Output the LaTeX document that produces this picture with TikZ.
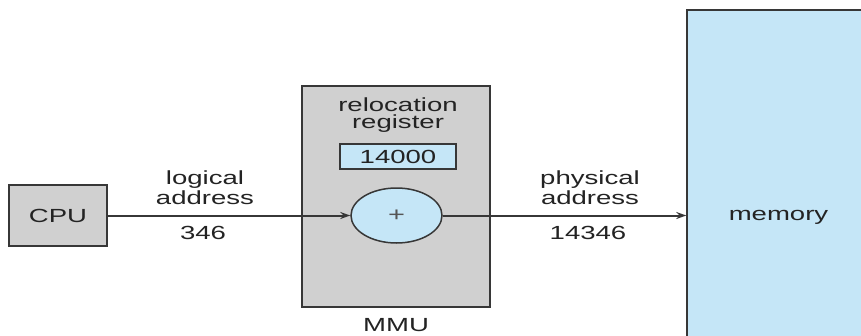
\documentclass[tikz,border=0pt]{standalone}
\usepackage{fontspec}
\setmainfont{Liberation Sans}[FakeStretch=1.45]
\usetikzlibrary{shapes.geometric,arrows.meta}
\definecolor{boxgray}{RGB}{208,208,208}
\definecolor{boxblue}{RGB}{197,230,247}
\definecolor{ink}{RGB}{35,35,35}
\definecolor{edge}{RGB}{55,55,55}
\definecolor{plusgray}{RGB}{85,85,85}
\tikzset{
  txt/.style={font=\fontsize{19}{20}\selectfont, text=ink, inner sep=0pt},
  lbl/.style={txt, anchor=base, text height=12pt, text depth=3pt},
  graybox/.style={draw=edge, line width=1.5pt, fill=boxgray, inner sep=0pt},
  bluebox/.style={draw=edge, line width=1.5pt, fill=boxblue, inner sep=0pt},
  conn/.style={draw=edge, line width=2pt},
  arr/.style={conn, -{Stealth[length=10pt,width=7pt]}}
}
\begin{document}
\begin{tikzpicture}[x=1pt,y=-1pt]
\useasboundingbox (0,0) rectangle (861,335);
\fill[white] (0,0) rectangle (861,335);
\clip (0,0) rectangle (861,335);
% boxes
\node[graybox, txt, minimum width=98pt, minimum height=61pt] (cpu) at (58,215.5) {CPU};
\node[graybox, minimum width=188pt, minimum height=221pt] (mmu) at (396,196.5) {};
\node[bluebox, txt, minimum width=116pt, minimum height=25pt] (reg) at (398,156.5) {14000};
\node[bluebox, ellipse, minimum width=91pt, minimum height=55pt, font=\fontsize{20}{20}\selectfont, text=plusgray] (add) at (396.5,215.5) {+};
\node[bluebox, txt, minimum width=183pt, minimum height=414pt] (mem) at (778.5,217) {memory};
% labels
\node[txt, anchor=base, align=center, font=\fontsize{19}{17}\selectfont] (rel) at (398,128) {relocation\\register};
\node[lbl] (mmulbl) at (396,331) {MMU};
\node[txt, anchor=base, align=center, font=\fontsize{19}{20}\selectfont] (log) at (205,204) {logical\\address};
\node[lbl] (lognum) at (203,239) {346};
\node[txt, anchor=base, align=center, font=\fontsize{19}{20}\selectfont] (phy) at (590,204) {physical\\address};
\node[lbl] (phynum) at (588,239) {14346};
% connectors
\draw[arr] (cpu.east) -- (add.west);
\draw[arr] (add.east) -- (add.east -| mem.west);
\end{tikzpicture}
\end{document}
